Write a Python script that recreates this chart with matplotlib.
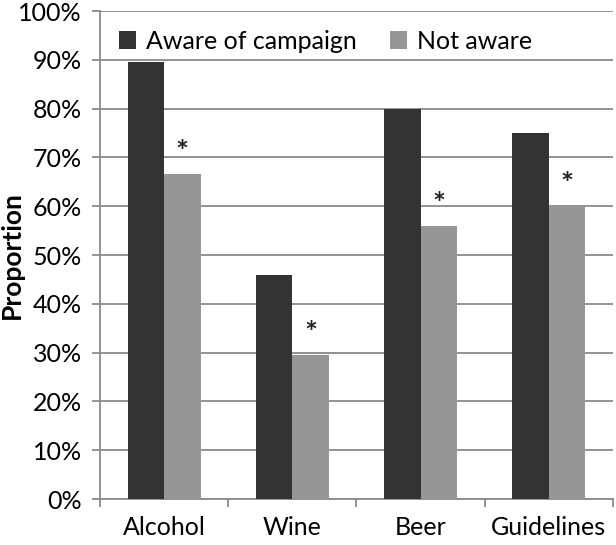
import numpy as np
import matplotlib.pyplot as plt
from matplotlib.ticker import FixedLocator, PercentFormatter

categories = ['Alcohol', 'Wine', 'Beer', 'Guidelines']
aware = [89.5, 46.0, 80.0, 74.9]
not_aware = [66.6, 29.6, 56.0, 60.1]
significant = [True, True, True, True]

plt.rcParams['font.family'] = ['Lato', 'DejaVu Sans']

fig = plt.figure(figsize=(6.16, 5.45), dpi=100)
ax = fig.add_axes([0.1623, 0.0844, 0.8327, 0.8954])

x = np.arange(len(categories))
w = 0.285
ax.bar(x - w / 2, aware, w, color='#333333', label='Aware of campaign', zorder=3)
ax.bar(x + w / 2, not_aware, w, color='#969696', label='Not aware', zorder=3)

# asterisks above the "not aware" bars
for xi, v, s in zip(x, not_aware, significant):
    if s:
        ax.annotate('*', (xi + w / 2, v), xytext=(0, 5), textcoords='offset points',
                    ha='center', va='bottom', fontsize=22, fontweight='bold', color='#222222')

ax.set_xlim(-0.5, len(categories) - 0.5)
ax.set_ylim(0, 100)
ax.yaxis.set_major_locator(FixedLocator(np.arange(0, 101, 10)))
ax.yaxis.set_major_formatter(PercentFormatter(decimals=0))
ax.grid(axis='y', color='#8a8a8a', linewidth=1.3, zorder=0)

ax.set_xticks(x)
ax.set_xticklabels(categories)
ax.set_xticks(np.arange(-0.5, len(categories)), minor=True)
ax.tick_params(axis='x', which='major', length=0, pad=12, labelsize=18)
ax.tick_params(axis='x', which='minor', length=6, width=1.3, color='#8a8a8a', direction='out')
ax.tick_params(axis='y', length=6, width=1.3, color='#8a8a8a', labelsize=18, pad=7)

for side in ['top', 'right']:
    ax.spines[side].set_visible(False)
for side in ['left', 'bottom']:
    ax.spines[side].set_color('#8a8a8a')
    ax.spines[side].set_linewidth(1.3)

ax.set_ylabel('Proportion', fontsize=19, fontweight='bold')
ax.yaxis.set_label_coords(-0.148, 0.5)

leg = ax.legend(loc='upper center', bbox_to_anchor=(0.44, 0.995), ncol=2, frameon=True,
                fontsize=18, handlelength=0.7, handleheight=0.7, columnspacing=1.3,
                handletextpad=0.4, borderpad=0.15)
leg.get_frame().set_edgecolor('none')
leg.get_frame().set_facecolor('white')
leg.get_frame().set_alpha(1)

fig.savefig('out.png', dpi=100)
